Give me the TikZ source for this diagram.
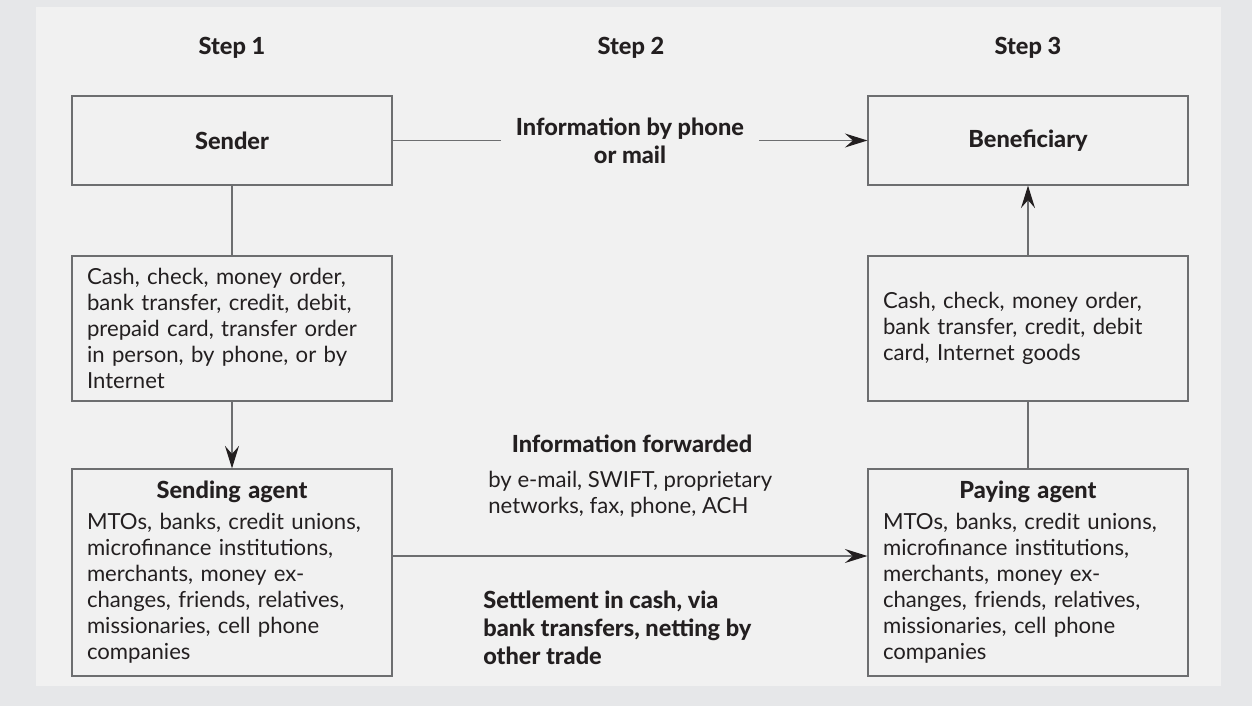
\documentclass[tikz,border=0pt]{standalone}
\usepackage{fontspec}
\setmainfont{Lato}[BoldFont={Lato Heavy}]
\usetikzlibrary{arrows.meta}
\definecolor{outerbg}{HTML}{E6E7E9}
\definecolor{panelbg}{HTML}{F1F1F1}
\definecolor{boxline}{HTML}{6D6E70}
\definecolor{ink}{HTML}{231F20}
\tikzset{
	box/.style={draw=boxline,line width=0.7pt,minimum width=6.4cm,text width=5.8cm,inner xsep=0.3cm,align=left,text=ink,font=\fontsize{12.6}{14.8}\selectfont},
	headbox/.style={draw=boxline,line width=0.7pt,minimum width=6.4cm,minimum height=1.78cm,text=ink,font=\bfseries\fontsize{13.4}{16}\selectfont},
	steplabel/.style={text=ink,font=\bfseries\fontsize{13.4}{16}\selectfont},
	note/.style={text=ink,align=left,font=\fontsize{12.6}{14.8}\selectfont},
	boldnote/.style={text=ink,font=\bfseries\fontsize{13.4}{16}\selectfont},
	link/.style={draw=boxline,line width=0.7pt},
	flow/.style={link,-{Stealth[length=4.5mm,width=2.8mm,inset=1.6mm,color=ink]}}
}
\begin{document}
\begin{tikzpicture}[x=0.02cm,y=-0.02cm]
	\fill[outerbg] (0,0) rectangle (1252,706);
	\fill[panelbg] (36,7) rectangle (1221,686);
	\node[steplabel] (step1) at (232,48) {Step 1};
	\node[steplabel] (step2) at (631,48) {Step 2};
	\node[steplabel] (step3) at (1028,48) {Step 3};
	\node[headbox] (sender) at (232,140.5) {Sender};
	\node[headbox] (benef) at (1028,140.5) {Beneficiary};
	\node[box,minimum height=2.9cm] (cashin) at (232,328.5) {Cash, check, money order,\\bank transfer, credit, debit,\\prepaid card, transfer order\\in person, by phone, or by\\Internet};
	\node[box,minimum height=2.9cm] (cashout) at (1028,328.5) {Cash, check, money order,\\bank transfer, credit, debit\\card, Internet goods};
	\node[box,minimum height=4.14cm] (sendagent) at (232,572.5) {\centerline{\bfseries\fontsize{13.4}{16}\selectfont Sending agent}\\[0.1cm]MTOs, banks, credit unions,\\microfinance institutions,\\merchants, money ex-\\changes, friends, relatives,\\missionaries, cell phone\\companies};
	\node[box,minimum height=4.14cm] (payagent) at (1028,572.5) {\centerline{\bfseries\fontsize{13.4}{16}\selectfont Paying agent}\\[0.1cm]MTOs, banks, credit unions,\\microfinance institutions,\\merchants, money ex-\\changes, friends, relatives,\\missionaries, cell phone\\companies};
	% step 2 texts
	\node[boldnote] (fwdtitle) at (632,444) {Information forwarded};
	\node[note,anchor=west,inner xsep=0] (fwdbody) at (488,494) {by e-mail, SWIFT, proprietary\\networks, fax, phone, ACH};
	\node[boldnote,align=left,anchor=west,inner xsep=0] (settle) at (483,628) {Settlement in cash, via\\bank transfers, netting by\\other trade};
	% connectors
	\draw[flow] (sender) -- node[boldnote,align=center,fill=panelbg,inner xsep=0.3cm] (phone) {Information by phone\\or mail} (benef);
	\draw[link] (sender) -- (cashin);
	\draw[flow] (cashin) -- (sendagent);
	\draw[flow] ([yshift=0.33cm]sendagent.east) -- ([yshift=0.33cm]payagent.west);
	\draw[link] (payagent) -- (cashout);
	\draw[flow] (cashout) -- (benef);
\end{tikzpicture}
\end{document}
